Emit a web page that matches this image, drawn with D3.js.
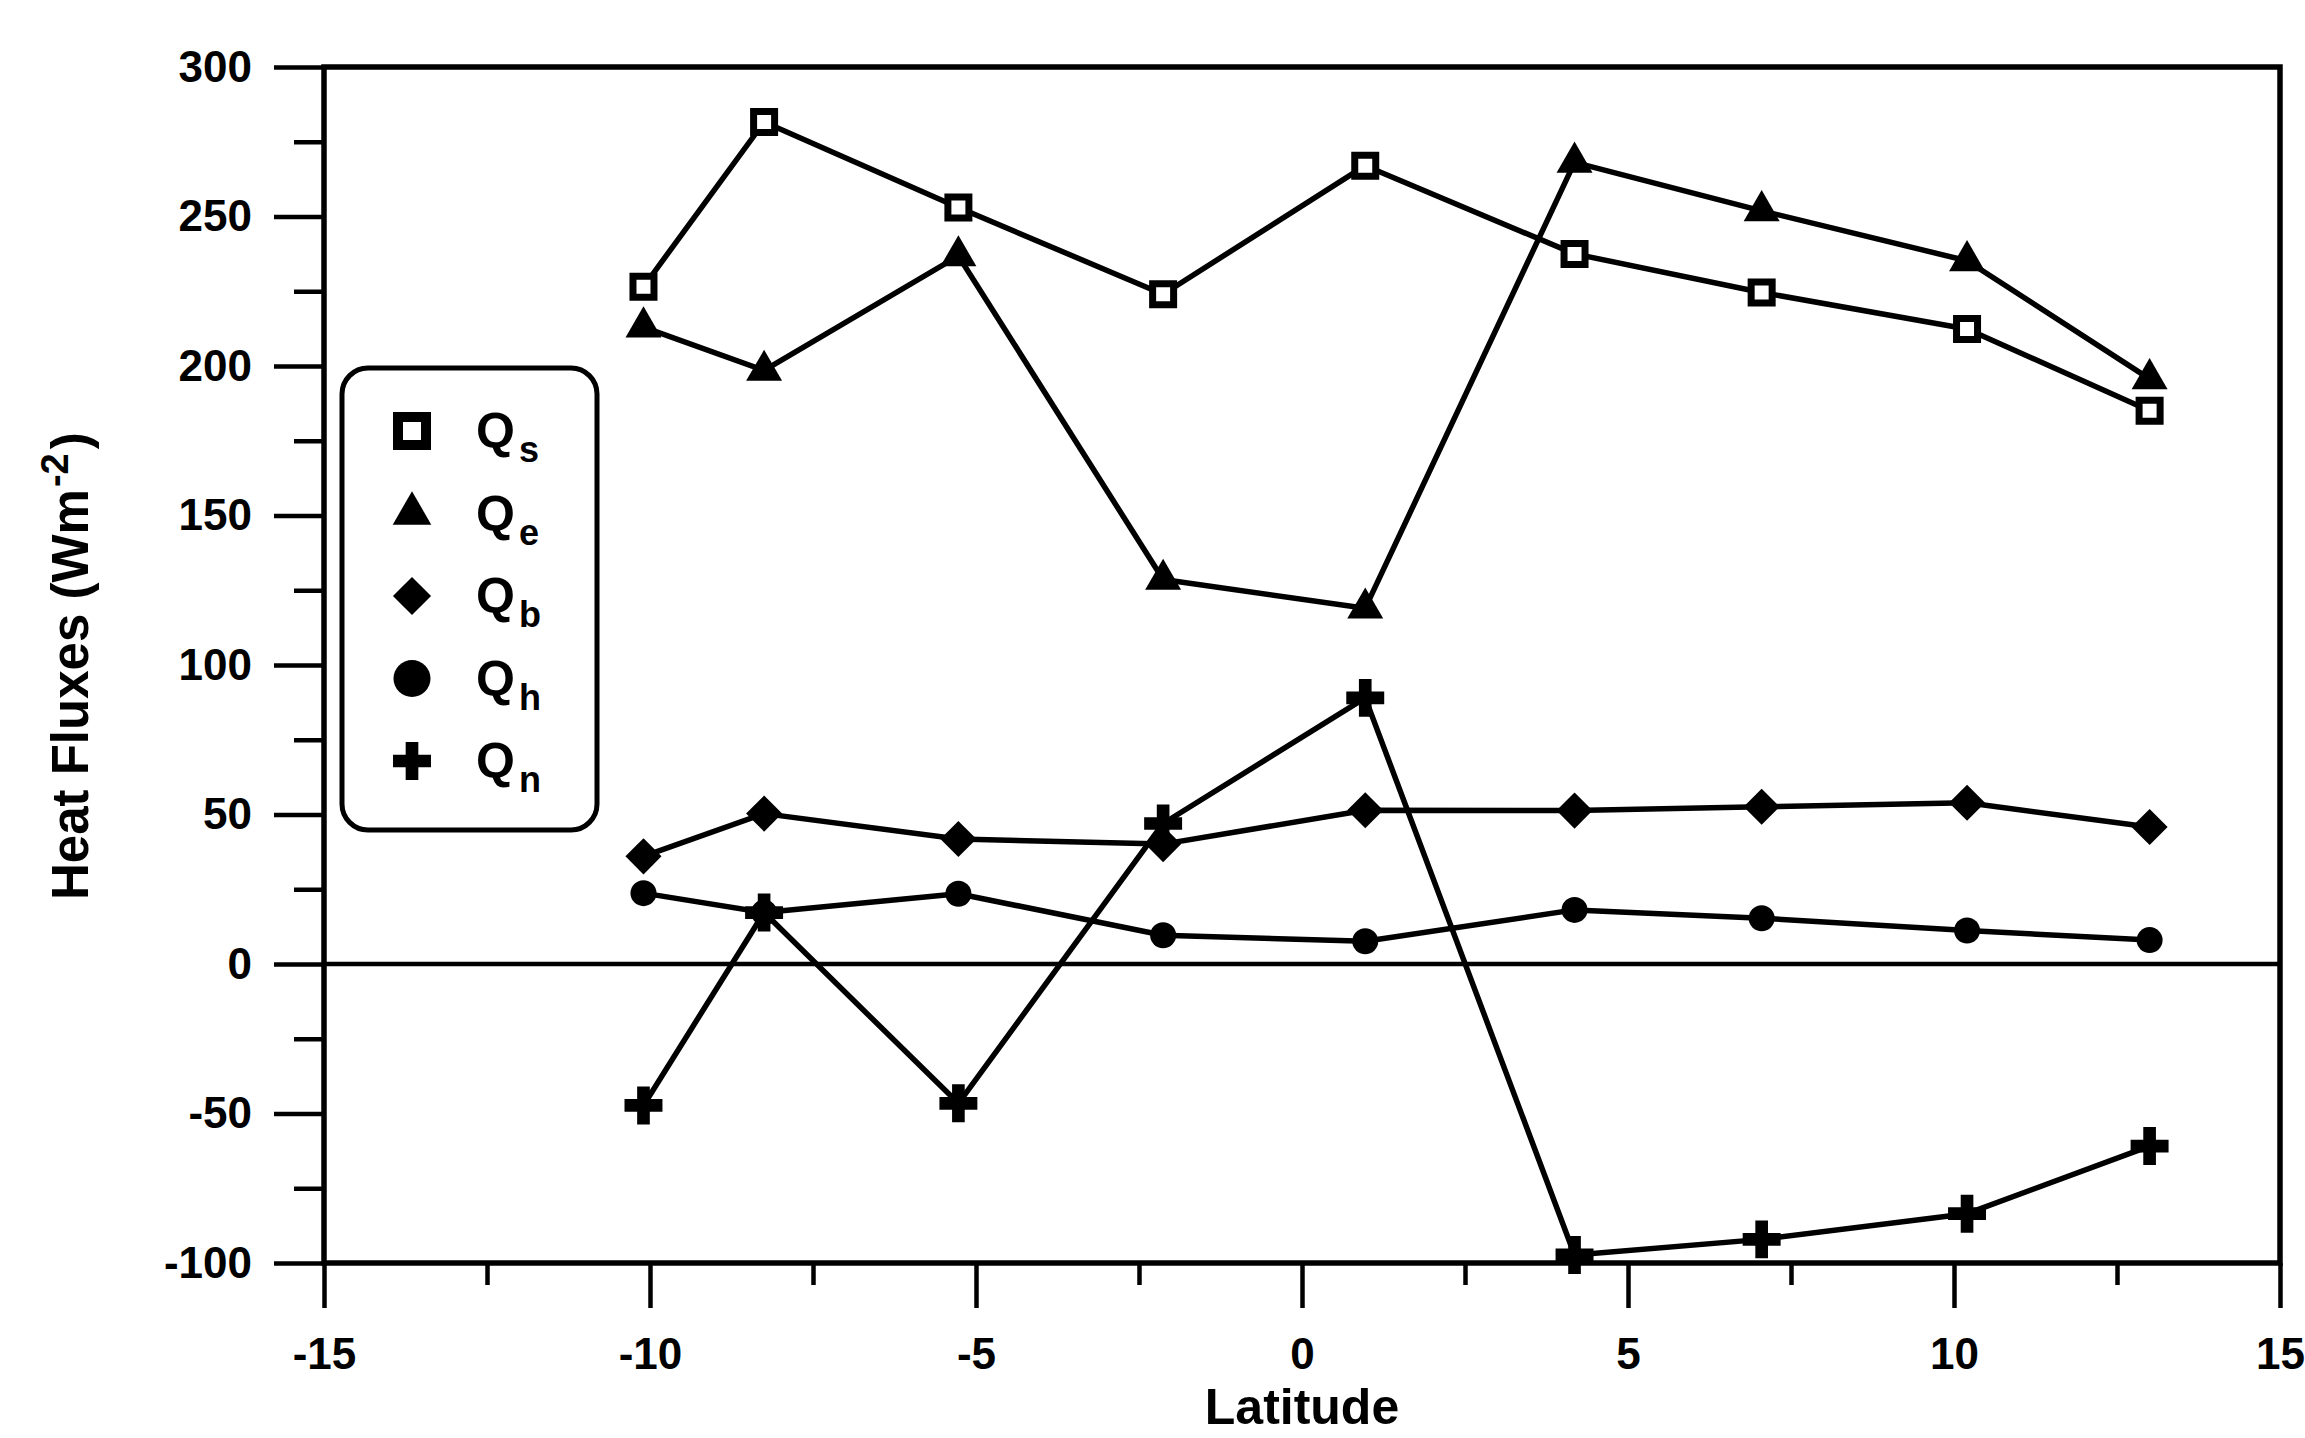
<!DOCTYPE html>
<html>
<head>
<meta charset="utf-8">
<script src="https://cdn.jsdelivr.net/npm/d3@7"></script>
<style>
  body { margin: 0; background: #fff; }
  svg { display: block; }
  text { font-family: "Liberation Sans", Arial, sans-serif; font-weight: bold; fill: #000; }
</style>
</head>
<body>
<div id="chart"></div>
<script>
// latitude of each station
const latitudes = [-10.1, -8.25, -5.27, -2.13, 0.97, 4.18, 7.05, 10.2, 13.0];

// heat flux series (W/m2)
const qs = [226.5, 281.6, 253, 224, 267, 237.5, 224.6, 212.4, 185];
const qe = [213, 198.5, 236.8, 128.6, 119, 268.1, 251.9, 235.2, 195.7];
const qb = [36, 50.3, 41.8, 40.1, 51.4, 51.3, 52.6, 53.9, 45.8];
const qh = [23.7, 17.2, 23.5, 9.6, 7.6, 18.1, 15.3, 11.2, 8];
const qn = [-47.3, 17.2, -46.6, 47, 89, -97.3, -92.1, -83.5, -60.9];

const seriesNames = ['s', 'e', 'b', 'h', 'n'];
const xTicks = [-15, -10, -5, 0, 5, 10, 15];
const xMinor = [-12.5, -7.5, -2.5, 2.5, 7.5, 12.5];
const yTicks = [-100, -50, 0, 50, 100, 150, 200, 250, 300];
const yMinor = [-75, -25, 25, 75, 125, 175, 225, 275];

const W = 2305, H = 1438;
const svg = d3.select('#chart').append('svg')
    .attr('width', W)
    .attr('height', H);

svg.append('rect').attr('width', W).attr('height', H).attr('fill', '#fff');

const x = d3.scaleLinear().domain([-15, 15]).range([324, 2280]);
const y = d3.scaleLinear().domain([-100, 300]).range([1263, 67]);

const fmt = d => d < 0 ? '-' + Math.abs(d) : '' + d;

// minor ticks first
svg.append('g')
    .attr('transform', `translate(${x(-15)},0)`)
    .call(d3.axisLeft(y).tickValues(yMinor).tickSize(30).tickFormat(''))
    .call(g => g.select('.domain').remove());

svg.append('g')
    .attr('transform', `translate(0,${y(-100)})`)
    .call(d3.axisBottom(x).tickValues(xMinor).tickSize(22).tickFormat(''))
    .call(g => g.select('.domain').remove());

// major ticks with labels
svg.append('g')
    .attr('transform', `translate(${x(-15)},0)`)
    .call(d3.axisLeft(y).tickValues(yTicks).tickSize(50).tickPadding(22).tickFormat(fmt))
    .call(g => g.select('.domain').remove());

svg.append('g')
    .attr('transform', `translate(0,${y(-100)})`)
    .call(d3.axisBottom(x).tickValues(xTicks).tickSize(45).tickPadding(30).tickFormat(fmt))
    .call(g => g.select('.domain').remove());

svg.selectAll('.tick line').attr('stroke', '#000').attr('stroke-width', 4.5);
svg.selectAll('.tick text')
    .style('font-size', '44px')
    .style('font-family', '"Liberation Sans", Arial, sans-serif')
    .style('font-weight', 'bold')
    .attr('fill', '#000');

// frame
svg.append('rect')
    .attr('x', x(-15))
    .attr('y', y(300))
    .attr('width', x(15) - x(-15))
    .attr('height', y(-100) - y(300))
    .attr('fill', 'none')
    .attr('stroke', '#000')
    .attr('stroke-width', 5.5);

// zero line
svg.append('line')
    .attr('x1', x(-15)).attr('x2', x(15))
    .attr('y1', y(0)).attr('y2', y(0))
    .attr('stroke', '#000')
    .attr('stroke-width', 4.5);

// axis titles
svg.append('text')
    .attr('x', (x(-15) + x(15)) / 2)
    .attr('y', 1424)
    .attr('text-anchor', 'middle')
    .style('font-size', '50px')
    .text('Latitude');

const yTitle = svg.append('text')
    .attr('transform', 'translate(88,900) rotate(-90)')
    .attr('text-anchor', 'start')
    .style('font-size', '51px');
yTitle.append('tspan').text('Heat Fluxes (Wm');
yTitle.append('tspan').attr('dy', -20).attr('dx', 2).style('font-size', '38px').text('-2');
yTitle.append('tspan').attr('dy', 20).attr('dx', 4).text(')');

// series lines and markers
const allSeries = [qs, qe, qb, qh, qn];
const line = d3.line()
    .x((d, i) => x(latitudes[i]))
    .y(d => y(d));

allSeries.forEach(vals => {
    svg.append('path')
        .datum(vals)
        .attr('d', line)
        .attr('fill', 'none')
        .attr('stroke', '#000')
        .attr('stroke-width', 5.5)
        .attr('stroke-linejoin', 'round');
});

// marker drawing per series
function marker(g, name, big) {
    const k = big ? 1.15 : 1;
    if (name === 's') {
        const side = big ? 28 : 21;
        g.append('path')
            .attr('d', d3.symbol(d3.symbolSquare, side * side)())
            .attr('fill', '#fff')
            .attr('stroke', '#000')
            .attr('stroke-width', big ? 10 : 7);
    } else if (name === 'e') {
        g.append('path')
            .attr('d', d3.symbol(d3.symbolTriangle, 560 * k)())
            .attr('fill', '#000');
    } else if (name === 'b') {
        const side = big ? 27 : 25.5;
        g.append('path')
            .attr('d', d3.symbol(d3.symbolSquare, side * side)())
            .attr('transform', 'rotate(45)')
            .attr('fill', '#000');
    } else if (name === 'h') {
        const r = big ? 18.5 : 13;
        g.append('path')
            .attr('d', d3.symbol(d3.symbolCircle, Math.PI * r * r)())
            .attr('fill', '#000');
    } else {
        g.append('path')
            .attr('d', d3.symbol(d3.symbolCross, 800)())
            .attr('fill', '#000');
    }
}

allSeries.forEach((vals, s) => {
    vals.forEach((v, i) => {
        const g = svg.append('g')
            .attr('transform', `translate(${x(latitudes[i])},${y(v)})`);
        marker(g, seriesNames[s], false);
    });
});

// legend
const legend = svg.append('g');
legend.append('rect')
    .attr('x', 342).attr('y', 368)
    .attr('width', 255).attr('height', 462)
    .attr('rx', 26)
    .attr('fill', '#fff')
    .attr('stroke', '#000')
    .attr('stroke-width', 5);

seriesNames.forEach((name, i) => {
    const cy = 431 + i * 82.5;
    const g = legend.append('g').attr('transform', `translate(412,${cy})`);
    marker(g, name, true);
    const t = legend.append('text')
        .attr('x', 476)
        .attr('y', cy + 17)
        .style('font-size', '50px');
    t.append('tspan').text('Q');
    t.append('tspan').attr('dy', 14).attr('dx', 4).style('font-size', '36px').text(name);
});
</script>
</body>
</html>
